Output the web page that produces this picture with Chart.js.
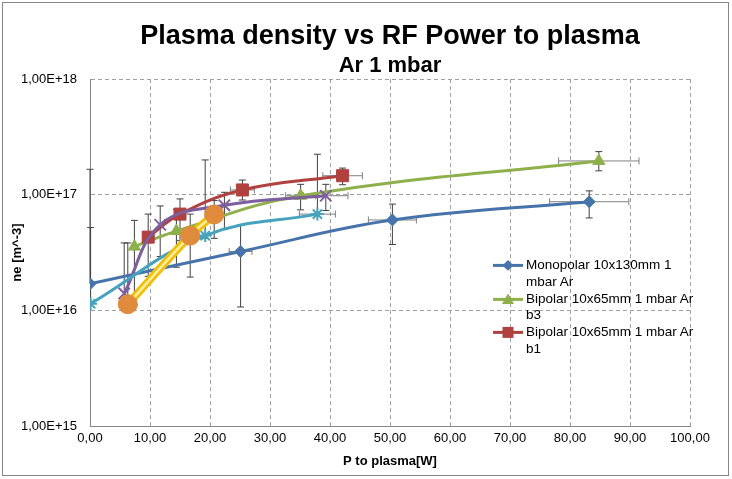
<!DOCTYPE html>
<html>
<head>
<meta charset="utf-8">
<title>Plasma density vs RF Power to plasma</title>
<script src="https://cdn.jsdelivr.net/npm/chart.js@4.4.1/dist/chart.umd.min.js"></script>
<style>
  html, body { margin: 0; padding: 0; background: #fff; }
  #wrap { position: relative; width: 732px; height: 479px; }
  #frame { position: absolute; left: 2px; top: 2px; width: 727px; height: 474px; border: 1px solid #868686; box-sizing: border-box; pointer-events: none; }
  #legend { position: absolute; left: 493px; top: 257px; font: 13.5px "Liberation Sans", Arial, sans-serif; color: #000; }
  .item { display: flex; align-items: flex-start; line-height: 16.8px; }
  .item svg { flex: none; }
  .item span { width: 174px; margin-left: 3px; }
</style>
</head>
<body>
<div id="wrap">
  <canvas id="chart" width="732" height="479"></canvas>
  <div id="legend"></div>
  <div id="frame"></div>
</div>
<script>
// Axis ticks
const xTicks = [0, 10, 20, 30, 40, 50, 60, 70, 80, 90, 100];
const xTickLabels = ['0,00', '10,00', '20,00', '30,00', '40,00', '50,00', '60,00', '70,00', '80,00', '90,00', '100,00'];
const yTicks = [1e15, 1e16, 1e17, 1e18];
const yTickLabels = ['1,00E+15', '1,00E+16', '1,00E+17', '1,00E+18'];

// Monopolar 10x130mm 1 mbar Ar
const monoP = [0, 25.1, 50.4, 83.2];
const monoNe = [1.70e16, 3.23e16, 6.05e16, 8.7e16];
const monoNeLow = [1.70e16, 1.07e16, 3.71e16, 6.3e16];
const monoNeHigh = [1.66e17, 5.5e16, 8.3e16, 1.08e17];
const monoPErr = [0, 1.9, 4.0, 6.6];

// Bipolar 10x65mm b3
const b3P = [7.4, 14.4, 35.1, 84.8];
const b3Ne = [3.56e16, 4.85e16, 9.8e16, 1.96e17];
const b3NeLow = [1.11e16, 2.36e16, 7.4e16, 1.61e17];
const b3NeHigh = [6.0e16, 7.5e16, 1.23e17, 2.36e17];
const b3PErr = [0, 0, 2.5, 6.7];

// Bipolar 10x65mm b1
const b1P = [9.7, 15.0, 25.4, 42.1];
const b1Ne = [4.3e16, 6.8e16, 1.1e17, 1.46e17];
const b1NeLow = [1.97e16, 4.0e16, 9.0e16, 1.22e17];
const b1NeHigh = [6.8e16, 9.2e16, 1.34e17, 1.7e17];
const b1PErr = [0, 0, 2.0, 3.3];

// series not listed in the legend
const s4P = [5.7, 11.7, 22.4, 39.3];
const s4Ne = [1.4e16, 5.5e16, 8.1e16, 9.8e16];
const s4NeLow = [1.1e16, 2.92e16, 5.0e16, 7.3e16];
const s4NeHigh = [3.83e16, 8.0e16, 1.05e17, 1.23e17];
const s4PErr = [0, 0, 0, 3.7];

const s5P = [0.1, 19.2, 37.9];
const s5Ne = [1.14e16, 4.43e16, 6.8e16];
const s5NeLow = [1.14e16, 4.2e16, 6.8e16];
const s5NeHigh = [5.2e16, 2.0e17, 2.24e17];
const s5PErr = [0, 0, 3.0];

const s6P = [6.3, 16.7, 20.7];
const s6Ne = [1.13e16, 4.43e16, 6.75e16];
const s6NeLow = [1.13e16, 1.94e16, 4.2e16];
const s6NeHigh = [3.83e16, 6.8e16, 8.9e16];
const s6PErr = [0, 0, 0];

const FONT = '"Liberation Sans", Arial, sans-serif';

const series = [
  { name: 'Monopolar 10x130mm 1 mbar Ar', x: monoP, y: monoNe, lo: monoNeLow, hi: monoNeHigh, xe: monoPErr, color: '#4674AA', style: 'rectRot', r: 6, legend: true },
  { name: 'Bipolar 10x65mm 1 mbar Ar b3', x: b3P, y: b3Ne, lo: b3NeLow, hi: b3NeHigh, xe: b3PErr, color: '#8DB04B', style: 'triangle', r: 7, legend: true },
  { name: 'Bipolar 10x65mm 1 mbar Ar b1', x: b1P, y: b1Ne, lo: b1NeLow, hi: b1NeHigh, xe: b1PErr, color: '#B0413E', style: 'rect', r: 8.5, legend: true },
  { name: 'Series 4', x: s4P, y: s4Ne, lo: s4NeLow, hi: s4NeHigh, xe: s4PErr, color: '#7D5FA0', style: 'crossRot', r: 8, legend: false },
  { name: 'Series 5', x: s5P, y: s5Ne, lo: s5NeLow, hi: s5NeHigh, xe: s5PErr, color: '#46A3BE', style: 'star', r: 6.5, legend: false },
];

const toPoints = (xs, ys) => xs.map((v, i) => ({ x: v, y: ys[i] }));

const datasets = series.map((s, i) => ({
  label: s.name,
  data: toPoints(s.x, s.y),
  showLine: true,
  tension: 0.4,
  borderColor: s.color,
  backgroundColor: s.color,
  borderWidth: 3,
  pointStyle: s.style,
  pointRadius: s.r,
  pointBorderWidth: (s.style === 'crossRot' || s.style === 'star') ? 2 : 1,
  pointBorderColor: s.color,
  pointBackgroundColor: s.color,
  order: 10 - i
}));

// last series: yellow double line with orange dots
datasets.push({
  label: 'Series 6 line',
  data: toPoints(s6P, s6Ne),
  showLine: true, tension: 0.4,
  borderColor: '#F2BE0A', borderWidth: 8, pointRadius: 0, order: 3
});
datasets.push({
  label: 'Series 6 stripe',
  data: toPoints(s6P, s6Ne),
  showLine: true, tension: 0.4,
  borderColor: '#FFEFA0', borderWidth: 2.5, pointRadius: 0, order: 2
});
datasets.push({
  label: 'Series 6',
  data: toPoints(s6P, s6Ne),
  showLine: false,
  pointStyle: 'circle', pointRadius: 9.5,
  backgroundColor: '#E08A3C', borderColor: '#E08A3C',
  pointBackgroundColor: '#E08A3C', pointBorderColor: '#E08A3C', order: 1
});

const errSeries = series.concat([{ x: s6P, y: s6Ne, lo: s6NeLow, hi: s6NeHigh, xe: s6PErr }]);

// Error bars, drawn under the lines and markers
const errorBars = {
  id: 'errorBars',
  beforeDatasetsDraw(chart) {
    const { ctx, scales: { x, y } } = chart;
    const cap = 3.5;
    ctx.save();
    ctx.lineWidth = 1;
    errSeries.forEach(s => {
      s.x.forEach((xv, i) => {
        const px = x.getPixelForValue(xv);
        const py = y.getPixelForValue(s.y[i]);
        const top = y.getPixelForValue(s.hi[i]);
        const bot = y.getPixelForValue(s.lo[i]);
        ctx.strokeStyle = '#404040';
        ctx.beginPath();
        ctx.moveTo(px, top); ctx.lineTo(px, bot);
        if (top < py - 0.5) { ctx.moveTo(px - cap, top); ctx.lineTo(px + cap, top); }
        if (bot > py + 0.5) { ctx.moveTo(px - cap, bot); ctx.lineTo(px + cap, bot); }
        ctx.stroke();
        if (s.xe[i] > 0) {
          const l = x.getPixelForValue(xv - s.xe[i]);
          const r = x.getPixelForValue(xv + s.xe[i]);
          ctx.strokeStyle = '#808080';
          ctx.beginPath();
          ctx.moveTo(l, py); ctx.lineTo(r, py);
          ctx.moveTo(l, py - cap); ctx.lineTo(l, py + cap);
          ctx.moveTo(r, py - cap); ctx.lineTo(r, py + cap);
          ctx.stroke();
        }
      });
    });
    ctx.restore();
  }
};

const gridColor = '#A0A0A0';

new Chart(document.getElementById('chart').getContext('2d'), {
  type: 'scatter',
  data: { datasets: datasets },
  options: {
    responsive: false,
    animation: false,
    devicePixelRatio: 1,
    layout: { padding: { left: 4, right: 42, top: 2, bottom: 6 } },
    plugins: {
      legend: { display: false },
      tooltip: { enabled: false },
      title: {
        display: true,
        text: 'Plasma density vs RF Power to plasma',
        color: '#000',
        fullSize: false,
        font: { family: FONT, size: 27, weight: 'bold', lineHeight: 1.1 },
        padding: { top: 20, bottom: 0 }
      },
      subtitle: {
        display: true,
        text: 'Ar 1 mbar',
        color: '#000',
        fullSize: false,
        font: { family: FONT, size: 22, weight: 'bold' },
        padding: { top: 1, bottom: 0 }
      }
    },
    scales: {
      x: {
        type: 'linear',
        min: 0,
        max: 100,
        afterFit: scale => { scale.height = 47; },
        afterBuildTicks: scale => { scale.ticks = xTicks.map(v => ({ value: v })); },
        ticks: {
          color: '#000',
          padding: 5,
          maxRotation: 0,
          autoSkip: false,
          font: { family: FONT, size: 13 },
          callback: (v, i) => xTickLabels[i]
        },
        grid: { color: gridColor, drawTicks: false },
        border: { display: true, color: '#868686', width: 1, dash: [4, 3] },
        title: {
          display: true,
          text: 'P to plasma[W]',
          color: '#000',
          font: { family: FONT, size: 13, weight: 'bold' },
          padding: { top: 0, bottom: 4 }
        }
      },
      y: {
        type: 'logarithmic',
        min: 1e15,
        max: 1e18,
        afterFit: scale => { scale.width = 86; },
        afterBuildTicks: scale => { scale.ticks = yTicks.map(v => ({ value: v })); },
        ticks: {
          color: '#000',
          padding: 13,
          font: { family: FONT, size: 13 },
          callback: (v, i) => yTickLabels[i]
        },
        grid: { color: gridColor, drawTicks: false },
        border: { display: true, color: '#868686', width: 1, dash: [4, 3] },
        title: {
          display: true,
          text: 'ne [m^-3]',
          color: '#000',
          font: { family: FONT, size: 13, weight: 'bold' },
          padding: { top: 6, bottom: 0 }
        }
      }
    }
  },
  plugins: [errorBars]
});

// HTML legend (only the first three series, as in the original)
const legendEl = document.getElementById('legend');
function markerSvg(s) {
  const c = s.color;
  let m = '';
  if (s.style === 'rectRot') m = `<polygon points="15,3 20.5,8.4 15,13.8 9.5,8.4" fill="${c}"/>`;
  else if (s.style === 'triangle') m = `<polygon points="15,2.5 21,13 9,13" fill="${c}"/>`;
  else if (s.style === 'rect') m = `<rect x="9.5" y="2.9" width="11" height="11" fill="${c}"/>`;
  return `<svg width="30" height="17" viewBox="0 0 30 17"><line x1="0" y1="8.4" x2="30" y2="8.4" stroke="${c}" stroke-width="3"/>${m}</svg>`;
}
series.filter(s => s.legend).forEach(s => {
  const div = document.createElement('div');
  div.className = 'item';
  div.innerHTML = markerSvg(s) + `<span>${s.name}</span>`;
  legendEl.appendChild(div);
});
</script>
</body>
</html>
